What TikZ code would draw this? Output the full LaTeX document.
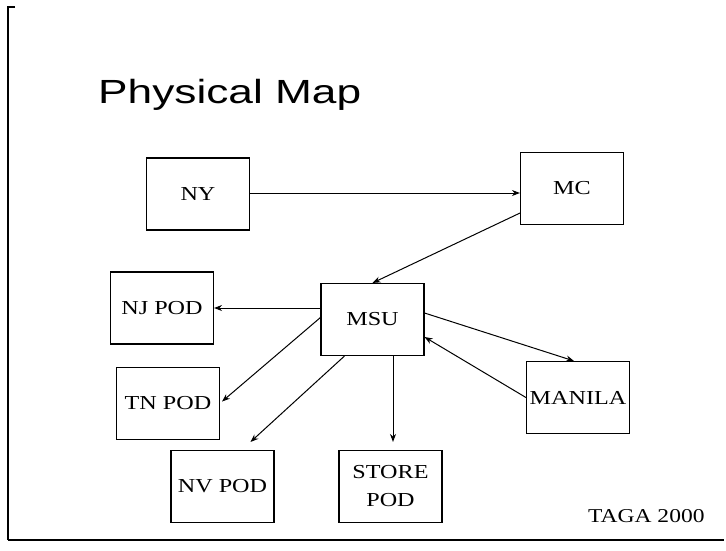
\documentclass[tikz,border=0pt]{standalone}
\usepackage{fontspec}
\setmainfont{Liberation Serif}
\newfontfamily\titlefont{Liberation Sans}
\usetikzlibrary{arrows.meta,calc}
\newcommand{\bxt}[1]{\scalebox{1.22}[1]{#1}}
\tikzset{
  box/.style={draw, line width=1.1pt, minimum width=103pt, minimum height=72pt, inner sep=0pt,
    font=\fontsize{19.8}{28}\selectfont},
  arr/.style={line width=1pt, -{Stealth[length=8pt,width=6pt]}},
}
\begin{document}
\begin{tikzpicture}[x=1pt,y=-1pt]
\useasboundingbox (0,0) rectangle (726,550);
% frame
\draw[line width=1.5pt] (15,7) -- (8,7) -- (8,540);
\draw[line width=2.2pt] (8,540) -- (724,540);
% title
\node[anchor=base west, inner sep=0pt, font=\titlefont\fontsize{33.5}{36}\selectfont] (title) at (98,103) {\scalebox{1.32}[1]{Physical Map}};
% boxes
\node[box] (ny) at (198,194) {\bxt{NY}};
\node[box] (mc) at (572,188.5) {\bxt{MC}};
\node[box] (nj) at (162,308) {\bxt{NJ POD}};
\node[box] (msu) at (372.5,319.5) {\bxt{MSU}};
\node[box] (tn) at (168,403.5) {\bxt{TN POD}};
\node[box] (nv) at (222.5,486.5) {\bxt{NV POD}};
\node[box] (store) at (390.5,486.5) {\bxt{\begin{tabular}{@{}c@{}}STORE\\POD\end{tabular}}};
\node[box] (manila) at (578,397.5) {\bxt{MANILA}};
% footer
\node[anchor=base west, inner sep=0pt, font=\fontsize{19.6}{24}\selectfont] (taga) at (588,522) {\scalebox{1.2}[1]{TAGA 2000}};
% connectors
\coordinate (nvtip) at ($(nv.north)+(28,-8)$);
\coordinate (sttip) at ($(store.north)+(2.5,-8)$);
\draw[arr] (ny.east |- 0,193) -- (mc.west |- 0,193);
\draw[arr] ($(mc.south west)+(0,-12)$) -- (msu.north);
\draw[arr] (msu.west |- nj.east) -- (nj.east);
\draw[arr] ($(msu.west)+(0,-2)$) -- ($(tn.east)+(2,-2)$);
\draw[arr] ($(msu.south west)+(24,0)$) -- (nvtip);
\draw[arr] (msu.south -| sttip) -- (sttip);
\draw[arr] ($(msu.east)+(0,-6.5)$) -- ($(manila.north)+(-4,0)$);
\draw[arr] (manila.west) -- ($(msu.east)+(0,17.5)$);
\end{tikzpicture}
\end{document}
